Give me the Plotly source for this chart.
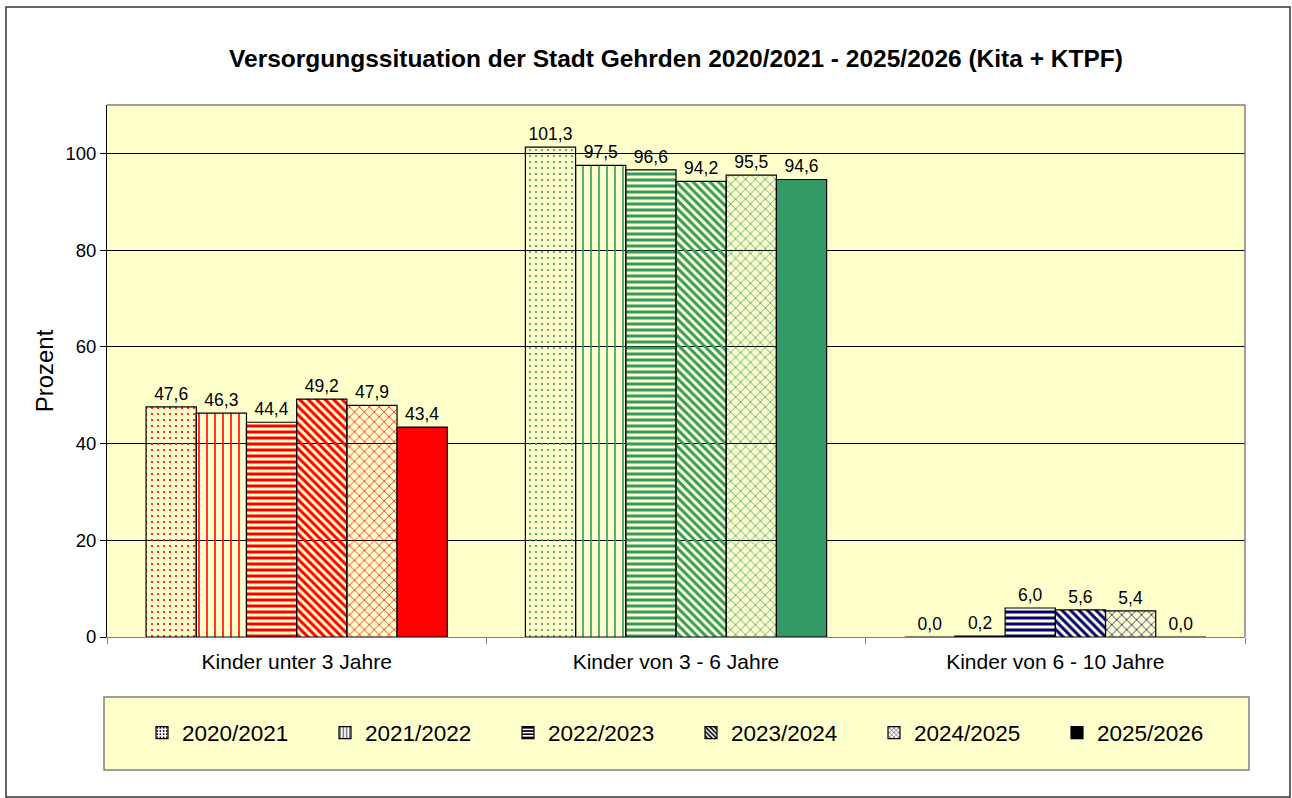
import plotly.graph_objects as go

categories = ["Kinder unter 3 Jahre", "Kinder von 3 - 6 Jahre", "Kinder von 6 - 10 Jahre"]
series_names = ["2020/2021", "2021/2022", "2022/2023", "2023/2024", "2024/2025", "2025/2026"]
values_2020 = [47.6, 101.3, 0.0]
values_2021 = [46.3, 97.5, 0.2]
values_2022 = [44.4, 96.6, 6.0]
values_2023 = [49.2, 94.2, 5.6]
values_2024 = [47.9, 95.5, 5.4]
values_2025 = [43.4, 94.6, 0.0]
series_values = [values_2020, values_2021, values_2022, values_2023, values_2024, values_2025]
y_ticks = [0, 20, 40, 60, 80, 100]

group_colors = ["#FF0000", "#339966", "#000080"]
patterns = [
    dict(shape=".", size=6, solidity=0.1),
    dict(shape="|", size=8, solidity=0.2),
    dict(shape="-", size=6, solidity=0.5),
    dict(shape="\\", size=6, solidity=0.5),
    dict(shape="x", size=7, solidity=0.2),
    None,
]

FONT = "Liberation Sans, Arial, sans-serif"
fig = go.Figure()

for name, vals, pat in zip(series_names, series_values, patterns):
    if pat is None:
        marker = dict(color=group_colors, line=dict(color="black", width=1.2))
    else:
        marker = dict(
            color=group_colors,
            line=dict(color="black", width=1.2),
            pattern=dict(shape=pat["shape"], size=pat["size"], solidity=pat["solidity"],
                         fgcolor=group_colors, bgcolor="white", fillmode="replace"),
        )
    fig.add_trace(go.Bar(
        x=categories, y=vals, name=name, marker=marker, showlegend=False,
        texttemplate="%{y:.1f}", textposition="outside",
        textfont=dict(family=FONT, size=17.5, color="black"), cliponaxis=False,
    ))

# legend entries (black patterns)
for name, pat in zip(series_names, patterns):
    if pat is None:
        marker = dict(color="black", line=dict(color="black", width=1.2))
    else:
        marker = dict(color="black", line=dict(color="black", width=1.2),
                      pattern=dict(shape=pat["shape"], size=4, solidity=max(pat["solidity"], 0.25),
                                   fgcolor="black", bgcolor="white", fillmode="replace"))
    fig.add_trace(go.Bar(x=[categories[0]], y=[None], name=name, marker=marker,
                         xaxis="x2", yaxis="y2", showlegend=True))

fig.update_layout(
    width=1292, height=798,
    margin=dict(l=107, r=47, t=105, b=161),
    paper_bgcolor="white", plot_bgcolor="#FFFFCC",
    separators=",.",
    barmode="group", bargap=0.206, bargroupgap=0,
    font=dict(family=FONT, color="black"),
    title=dict(text="<b>Versorgungssituation der Stadt Gehrden 2020/2021 - 2025/2026 (Kita + KTPF)</b>",
               x=676 / 1292, xanchor="center", y=1 - 58 / 798, yanchor="middle",
               font=dict(size=24.5, family=FONT, color="black")),
    xaxis=dict(type="category", showgrid=False, showline=True, linecolor="#808080", linewidth=1,
               ticks="outside", tickson="boundaries", ticklen=6, tickcolor="#808080",
               tickfont=dict(size=21, family=FONT), zeroline=False, ticklabelstandoff=6),
    yaxis=dict(range=[0, 110], tickvals=y_ticks, showgrid=True, gridcolor="black", gridwidth=1,
               showline=True, linecolor="black", linewidth=1, ticks="outside", ticklen=6,
               tickcolor="black", tickfont=dict(size=18.5, family=FONT), zeroline=False,
               title=dict(text="Prozent", font=dict(size=24, family=FONT), standoff=5)),
    xaxis2=dict(overlaying="x", visible=False),
    yaxis2=dict(overlaying="y", visible=False, range=[0, 1]),
    legend=dict(orientation="h", x=(142 - 107) / 1138, xanchor="left",
                y=(637 - 733) / 532, yanchor="middle", bgcolor="rgba(0,0,0,0)",
                font=dict(size=22.5, family=FONT), entrywidth=138, entrywidthmode="pixels",
                traceorder="normal"),
    shapes=[
        # outer chart border
        dict(type="rect", xref="paper", yref="paper",
             x0=(6 - 107) / 1138, x1=(1290 - 107) / 1138,
             y0=(637 - 797) / 532, y1=(637 - 7) / 532,
             line=dict(color="#333333", width=1.5), fillcolor="rgba(0,0,0,0)", layer="below"),
        # legend box
        dict(type="rect", xref="paper", yref="paper",
             x0=(104 - 107) / 1138, x1=(1249 - 107) / 1138,
             y0=(637 - 770) / 532, y1=(637 - 697) / 532,
             line=dict(color="#808080", width=1.5), fillcolor="#FFFFCC", layer="below"),
        # plot area top and right borders
        dict(type="line", xref="paper", yref="paper", x0=0, x1=1, y0=1, y1=1,
             line=dict(color="#808080", width=1.5)),
        dict(type="line", xref="paper", yref="paper", x0=1, x1=1, y0=0, y1=1,
             line=dict(color="#808080", width=1.5)),
    ],
)

fig.write_html("out.html", config={"displayModeBar": False},
               post_script="document.body.style.margin='0';document.body.style.padding='0';")
